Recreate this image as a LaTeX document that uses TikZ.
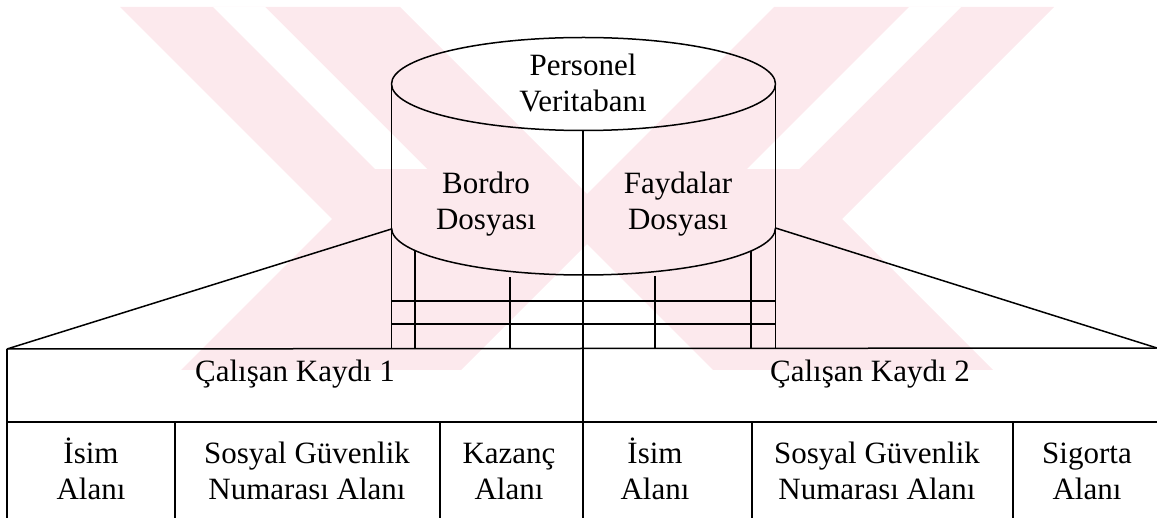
\documentclass[tikz,border=0pt]{standalone}
\usepackage{fontspec}
\setmainfont{Liberation Serif}
\definecolor{wmpink}{RGB}{252,233,237}
\begin{document}
\begin{tikzpicture}[x=1pt,y=-1pt,line width=1.5pt,line join=round,
  lbl/.style={font=\fontsize{31}{36}\selectfont,align=center,inner sep=0pt,anchor=base},
  wm/.style={fill=wmpink,draw=none},
  gap/.style={fill=white,draw=none}]
\useasboundingbox (0,0) rectangle (1157,518);

% faint background emblem
\fill[wm] (120,7) -- (400,7) -- (612,219) -- (461,370) -- (181,370) -- (332,219) -- cycle;
\fill[wm] (774,7) -- (1054,7) -- (842,219) -- (993,370) -- (713,370) -- (562,219) -- cycle;
\fill[gap] (213,7) -- (265,7) -- (427,169) -- (375,169) -- cycle;
\fill[gap] (909,7) -- (961,7) -- (799,169) -- (747,169) -- cycle;

% database cylinder
\coordinate (cylTL) at (391.5,84);
\coordinate (cylTR) at (775.5,84);
\coordinate (cylBL) at (391.5,349);
\coordinate (cylBR) at (775.5,349);
\draw (583.5,84) ellipse [x radius=192pt, y radius=46.5pt];
\draw (cylTL) -- (cylBL);
\draw (cylTR) -- (cylBR);
\draw (391.5,228) arc [start angle=180, end angle=360, x radius=192pt, y radius=47pt];

% record stubs under the cylinder
\coordinate (midTop) at (583,130.5);
\coordinate (midBot) at (583,518);
\draw (midTop) -- (midBot);
\draw (415,251) -- (415,349);
\draw (510,277) -- (510,349);
\draw (655,276) -- (655,349);
\draw (751,251) -- (751,349);
\draw (391.5,301) -- (775.5,301);
\draw (391.5,324) -- (775.5,324);

% expansion lines to the record table
\coordinate (tabTL) at (7,349);
\coordinate (tabTR) at (1157,348);
\draw (391.5,229) -- (tabTL);
\draw (775.5,228) -- (tabTR);

% record table
\draw (tabTL) -- (tabTR);
\draw (7,422) -- (1157,422);
\draw (tabTL) -- (7,518);
\draw (175,422) -- (175,518);
\draw (440,422) -- (440,518);
\draw (752,422) -- (752,518);
\draw (1013,422) -- (1013,518);

% labels (base anchor sits on the last line)
\node[lbl] (db) at (583,112) {Personel\\Veritabanı};
\node[lbl] (bordro) at (486,230) {Bordro\\Dosyası};
\node[lbl] (fayda) at (678,230) {Faydalar\\Dosyası};
\node[lbl] (rec1) at (295,382) {Çalışan Kaydı 1};
\node[lbl] (rec2) at (870,382) {Çalışan Kaydı 2};
\node[lbl] (f1) at (91,500) {İsim\\Alanı};
\node[lbl] (f2) at (307,500) {Sosyal Güvenlik\\Numarası Alanı};
\node[lbl] (f3) at (509,500) {Kazanç\\Alanı};
\node[lbl] (f4) at (655,500) {İsim\\Alanı};
\node[lbl] (f5) at (877,500) {Sosyal Güvenlik\\Numarası Alanı};
\node[lbl] (f6) at (1087,500) {Sigorta\\Alanı};
\end{tikzpicture}
\end{document}
